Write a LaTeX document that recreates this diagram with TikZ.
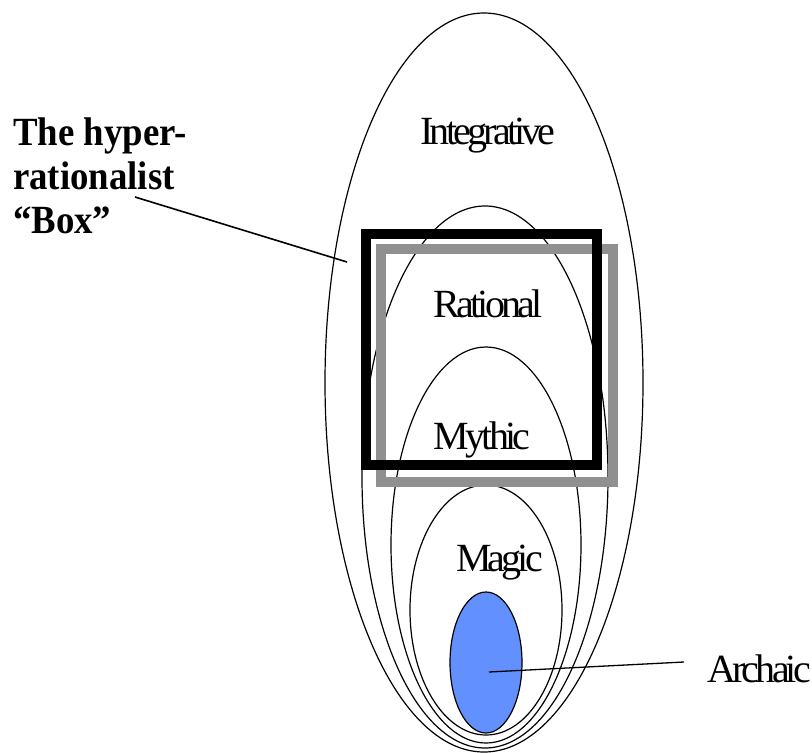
\documentclass[tikz,border=0pt]{standalone}
\usepackage{fontspec}
\setmainfont{Liberation Serif}
\newfontfamily\tightserif[LetterSpace=-9.5]{Liberation Serif}
\definecolor{boxgray}{RGB}{144,144,144}
\definecolor{archblue}{RGB}{98,145,255}
\tikzset{
  stage/.style={draw=black, line width=1.2pt},
  lbl/.style={anchor=base, inner sep=0pt, font=\fontsize{40}{44}\selectfont\tightserif},
  boldlbl/.style={anchor=base west, inner sep=0pt, font=\fontsize{40}{44}\selectfont\bfseries},
  pointer/.style={draw=black, line width=1.6pt},
}
\newcommand{\condb}[1]{\scalebox{0.92}[1]{#1}}
\begin{document}
\begin{tikzpicture}[x=1pt,y=-1pt]
\useasboundingbox (0,0) rectangle (812,753);
% nested ellipses
\draw[stage] (484,382.5) ellipse [x radius=159, y radius=369.5];
\draw[stage] (485,477) ellipse [x radius=123, y radius=271];
\draw[stage] (486,545) ellipse [x radius=95, y radius=198];
\draw[stage] (486,610) ellipse [x radius=76, y radius=125];
\draw[stage, fill=archblue] (486,662.5) ellipse [x radius=36, y radius=70.5];
% boxes
\draw[boxgray, line width=10pt, line join=miter] (381,249) rectangle (613,482);
\draw[black, line width=10pt, line join=miter] (366,234) rectangle (597,465);
% labels
\node[lbl] (integ) at (488,144) {Integrative};
\node[lbl] (ratio) at (488,317) {Rational};
\node[lbl] (mythic) at (482,449) {Mythic};
\node[lbl] (magic) at (499.5,571) {Magic};
\node[lbl, anchor=base west] (archaic) at (707,682) {Archaic};
\node[boldlbl] (t1) at (13,145) {\condb{The hyper-}};
\node[boldlbl] (t2) at (13,189) {\condb{rationalist}};
\node[boldlbl] (t3) at (13,233) {\condb{``Box''}};
% connectors
\coordinate (boxfrom) at (135,197);
\coordinate (boxto) at (347,262);
\coordinate (archfrom) at (489,672);
\coordinate (archto) at (684,662);
\draw[pointer] (boxfrom) -- (boxto);
\draw[black, line width=1.3pt] (archfrom) -- (archto);
\end{tikzpicture}
\end{document}
